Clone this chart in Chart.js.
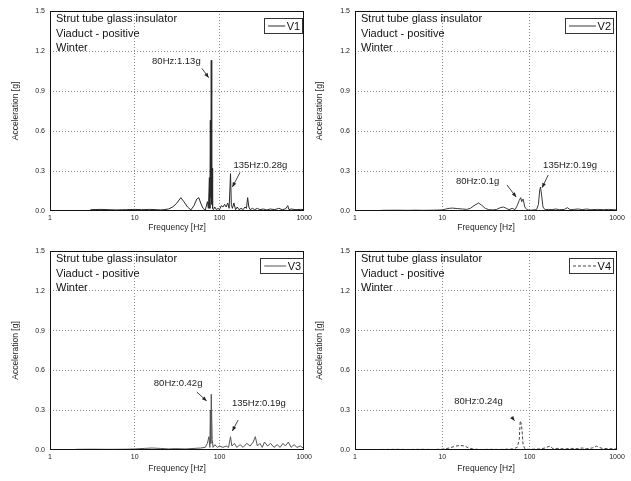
<!DOCTYPE html>
<html>
<head>
<meta charset="utf-8">
<script src="https://cdn.jsdelivr.net/npm/chart.js@4.4.1/dist/chart.umd.min.js"></script>
<style>
  html, body { margin: 0; padding: 0; background: #fff; }
  .panel { position: absolute; width: 315px; }
</style>
</head>
<body>
<div class="panel" style="left:0;top:0;height:240px"><canvas id="c1"></canvas></div>
<div class="panel" style="left:315px;top:0;height:240px"><canvas id="c2"></canvas></div>
<div class="panel" style="left:0;top:240px;height:241px"><canvas id="c3"></canvas></div>
<div class="panel" style="left:315px;top:240px;height:241px"><canvas id="c4"></canvas></div>
<script>
// tick labels
const xTicks = [1, 10, 100, 1000];
const yTicks = [0, 0.3, 0.6, 0.9, 1.2, 1.5];
const infoLines = ['Strut tube glass insulator', 'Viaduct - positive', 'Winter'];

// V1
const freqV1 = [3, 4, 5, 6, 8, 10, 12, 15, 18, 20, 22, 25, 28, 31, 35, 38, 42, 46, 50, 54, 57, 60, 64, 68, 72, 74, 76, 77, 78, 79, 80, 81, 82, 83, 85, 88, 92, 96, 100, 105, 110, 115, 120, 125, 130, 135, 138, 142, 148, 155, 162, 170, 180, 190, 200, 208, 215, 222, 230, 245, 260, 280, 300, 330, 360, 400, 450, 500, 550, 600, 640, 660, 700, 800, 900, 1000];
const accV1 = [0.01, 0.012, 0.01, 0.008, 0.01, 0.012, 0.01, 0.012, 0.01, 0.008, 0.01, 0.015, 0.03, 0.055, 0.1, 0.07, 0.03, 0.008, 0.04, 0.09, 0.1, 0.06, 0.02, 0.005, 0.07, 0.02, 0.25, 0.02, 0.68, 0.1, 1.13, 0.05, 0.32, 0.02, 0.01, 0.03, 0.01, 0.02, 0.01, 0.04, 0.03, 0.05, 0.03, 0.06, 0.02, 0.28, 0.05, 0.02, 0.06, 0.01, 0.03, 0.01, 0.02, 0.01, 0.03, 0.02, 0.1, 0.03, 0.01, 0.02, 0.01, 0.02, 0.01, 0.015, 0.008, 0.015, 0.01, 0.02, 0.01, 0.015, 0.04, 0.01, 0.015, 0.01, 0.012, 0.01];

// V2
const freqV2 = [2, 3, 4, 5, 6, 8, 10, 11, 12, 13, 15, 17, 19, 21, 23, 26, 28, 31, 34, 38, 42, 46, 50, 54, 58, 63, 68, 72, 76, 79, 81, 84, 88, 93, 100, 110, 120, 126, 130, 133, 137, 142, 150, 165, 180, 200, 220, 250, 270, 290, 320, 360, 400, 450, 500, 600, 700, 800, 1000];
const accV2 = [0.005, 0.006, 0.005, 0.006, 0.005, 0.006, 0.008, 0.015, 0.02, 0.022, 0.018, 0.015, 0.012, 0.02, 0.04, 0.06, 0.045, 0.02, 0.01, 0.008, 0.012, 0.025, 0.03, 0.02, 0.01, 0.02, 0.01, 0.04, 0.08, 0.1, 0.07, 0.09, 0.03, 0.01, 0.005, 0.008, 0.01, 0.05, 0.15, 0.18, 0.12, 0.03, 0.01, 0.012, 0.01, 0.015, 0.01, 0.012, 0.025, 0.01, 0.012, 0.015, 0.01, 0.015, 0.01, 0.012, 0.01, 0.012, 0.008];

// V3
const freqV3 = [2, 3, 5, 8, 10, 13, 16, 20, 25, 30, 40, 50, 60, 68, 72, 75, 77, 78, 79, 80, 82, 84, 88, 95, 100, 110, 120, 128, 135, 140, 150, 160, 175, 190, 210, 230, 250, 265, 280, 300, 320, 340, 370, 400, 440, 480, 520, 560, 600, 650, 700, 760, 820, 900, 1000];
const accV3 = [0.005, 0.006, 0.005, 0.006, 0.008, 0.012, 0.015, 0.012, 0.008, 0.01, 0.008, 0.012, 0.015, 0.02, 0.05, 0.1, 0.02, 0.3, 0.05, 0.42, 0.08, 0.02, 0.04, 0.02, 0.03, 0.02, 0.03, 0.02, 0.1, 0.03, 0.05, 0.02, 0.04, 0.02, 0.05, 0.03, 0.06, 0.1, 0.03, 0.05, 0.02, 0.06, 0.03, 0.05, 0.02, 0.04, 0.02, 0.05, 0.03, 0.06, 0.02, 0.04, 0.02, 0.03, 0.01];

// V4
const freqV4 = [2, 3, 4, 6, 8, 10, 12, 14, 16, 18, 20, 23, 28, 35, 45, 55, 65, 72, 76, 78, 80, 82, 84, 88, 95, 110, 130, 150, 170, 185, 210, 250, 300, 350, 400, 450, 520, 580, 620, 680, 800, 1000];
const accV4 = [0.004, 0.005, 0.004, 0.005, 0.004, 0.006, 0.015, 0.028, 0.035, 0.03, 0.015, 0.006, 0.004, 0.005, 0.004, 0.006, 0.008, 0.02, 0.08, 0.22, 0.2, 0.14, 0.04, 0.01, 0.005, 0.006, 0.008, 0.015, 0.03, 0.01, 0.012, 0.008, 0.012, 0.01, 0.015, 0.01, 0.015, 0.03, 0.02, 0.012, 0.01, 0.008];

const FONT = '"Liberation Sans", Arial, sans-serif';

function arrow(ctx, x1, y1, x2, y2) {
  ctx.beginPath();
  ctx.moveTo(x1, y1);
  ctx.lineTo(x2, y2);
  ctx.stroke();
  const ang = Math.atan2(y2 - y1, x2 - x1);
  ctx.beginPath();
  ctx.moveTo(x2, y2);
  ctx.lineTo(x2 - 5 * Math.cos(ang - 0.4), y2 - 5 * Math.sin(ang - 0.4));
  ctx.lineTo(x2 - 5 * Math.cos(ang + 0.4), y2 - 5 * Math.sin(ang + 0.4));
  ctx.closePath();
  ctx.fill();
}

// frame, info text, legend box and peak notes
const decor = {
  id: 'decor',
  afterDraw(chart, args, o) {
    const { ctx, chartArea: a, scales: { x, y } } = chart;
    ctx.save();
    ctx.strokeStyle = '#111';
    ctx.lineWidth = 1;
    ctx.strokeRect(Math.round(a.left) + 0.5, Math.round(a.top) + 0.5, Math.round(a.width) - 1, Math.round(a.height) - 1);

    ctx.fillStyle = '#111';
    ctx.font = '11px ' + FONT;
    ctx.textAlign = 'left';
    ctx.textBaseline = 'middle';
    infoLines.forEach((t, i) => ctx.fillText(t, a.left + 6, a.top + 8 + i * 14.5));

    // legend
    const lw = o.legendW, lh = 15;
    const lx = a.right - lw - o.legendGap, ly = a.top + 7;
    ctx.strokeStyle = '#333';
    ctx.strokeRect(Math.round(lx) + 0.5, Math.round(ly) + 0.5, lw, lh);
    ctx.strokeStyle = o.color;
    ctx.setLineDash(o.dash || []);
    ctx.beginPath();
    ctx.moveTo(lx + 4, ly + lh / 2 + 0.5);
    ctx.lineTo(lx + lw - 17, ly + lh / 2 + 0.5);
    ctx.stroke();
    ctx.setLineDash([]);
    ctx.textAlign = 'right';
    ctx.fillText(o.name, lx + lw - 2, ly + lh / 2 + 1);

    // notes
    ctx.font = '9.5px ' + FONT;
    ctx.textAlign = 'center';
    ctx.fillStyle = '#222';
    ctx.strokeStyle = '#444';
    o.notes.forEach(n => {
      ctx.fillText(n.text, x.getPixelForValue(n.at[0]), y.getPixelForValue(n.at[1]));
      arrow(ctx, x.getPixelForValue(n.from[0]), y.getPixelForValue(n.from[1]),
        x.getPixelForValue(n.to[0]), y.getPixelForValue(n.to[1]));
    });
    ctx.restore();
  }
};

function gridColor(c) {
  return (c.index === 0 || c.index === c.scale.ticks.length - 1) ? 'rgba(0,0,0,0)' : '#8a8a8a';
}

function makePanel(id, name, freqs, accs, opt) {
  const points = freqs.map((f, i) => ({ x: f, y: accs[i] }));
  return new Chart(document.getElementById(id), {
    type: 'line',
    data: {
      datasets: [{
        label: name,
        data: points,
        borderColor: opt.color,
        borderWidth: 1,
        borderDash: opt.dash || [],
        pointRadius: 0,
        tension: 0,
        fill: false
      }]
    },
    options: {
      responsive: true,
      maintainAspectRatio: false,
      animation: false,
      layout: { padding: { left: 0, right: opt.right, top: 11, bottom: 0 } },
      plugins: {
        legend: { display: false },
        tooltip: { enabled: false },
        decor: {
          name: name, color: opt.color, dash: opt.dash, notes: opt.notes,
          legendW: opt.legendW, legendGap: opt.legendGap
        }
      },
      scales: {
        x: {
          type: 'logarithmic',
          min: 1,
          max: 1000,
          afterBuildTicks: s => { s.ticks = xTicks.map(v => ({ value: v })); },
          afterFit: s => { s.height = opt.bottomH; },
          ticks: {
            autoSkip: false,
            maxRotation: 0,
            padding: 3,
            color: '#222',
            font: { family: FONT, size: 7 },
            callback: v => String(v)
          },
          grid: { color: gridColor, drawTicks: false, lineWidth: 1 },
          border: { display: false, dash: [1, 2] },
          title: {
            display: true,
            text: 'Frequency [Hz]',
            color: '#222',
            font: { family: FONT, size: 8.5 },
            padding: { top: 0, bottom: 7 }
          }
        },
        y: {
          min: 0,
          max: 1.5,
          afterBuildTicks: s => { s.ticks = yTicks.map(v => ({ value: v })); },
          afterFit: s => { s.width = opt.leftW; },
          ticks: {
            padding: 5,
            color: '#222',
            font: { family: FONT, size: 7 },
            callback: v => v.toFixed(1)
          },
          grid: { color: gridColor, drawTicks: false, lineWidth: 1 },
          border: { display: false, dash: [1, 2] },
          title: {
            display: true,
            text: 'Acceleration [g]',
            color: '#222',
            font: { family: FONT, size: 8.5 },
            padding: { top: opt.titlePad, bottom: 0 }
          }
        }
      }
    },
    plugins: [decor]
  });
}

makePanel('c1', 'V1', freqV1, accV1, {
  color: '#2a2a2a', right: 7, leftW: 50, bottomH: 29, titlePad: 11, legendW: 38, legendGap: 2,
  notes: [
    { text: '80Hz:1.13g', at: [31, 1.12], from: [62, 1.07], to: [74.5, 1.0] },
    { text: '135Hz:0.28g', at: [304, 0.34], from: [175, 0.29], to: [142, 0.18] }
  ]
});
makePanel('c2', 'V2', freqV2, accV2, {
  color: '#3a3a3a', right: 13, leftW: 40, bottomH: 29, titlePad: 0, legendW: 48, legendGap: 4,
  notes: [
    { text: '80Hz:0.1g', at: [25.3, 0.22], from: [55, 0.195], to: [70, 0.105] },
    { text: '135Hz:0.19g', at: [290, 0.34], from: [163, 0.27], to: [139, 0.175] }
  ]
});
makePanel('c3', 'V3', freqV3, accV3, {
  color: '#555555', right: 7, leftW: 50, bottomH: 31, titlePad: 11, legendW: 43, legendGap: 1,
  notes: [
    { text: '80Hz:0.42g', at: [32.5, 0.5], from: [54, 0.437], to: [70.6, 0.37] },
    { text: '135Hz:0.19g', at: [292, 0.35], from: [166, 0.226], to: [142, 0.143] }
  ]
});
makePanel('c4', 'V4', freqV4, accV4, {
  color: '#444444', dash: [3, 2], right: 13, leftW: 40, bottomH: 31, titlePad: 0, legendW: 44, legendGap: 4,
  notes: [
    { text: '80Hz:0.24g', at: [26, 0.37], from: [62, 0.25], to: [67, 0.22] }
  ]
});
</script>
</body>
</html>
